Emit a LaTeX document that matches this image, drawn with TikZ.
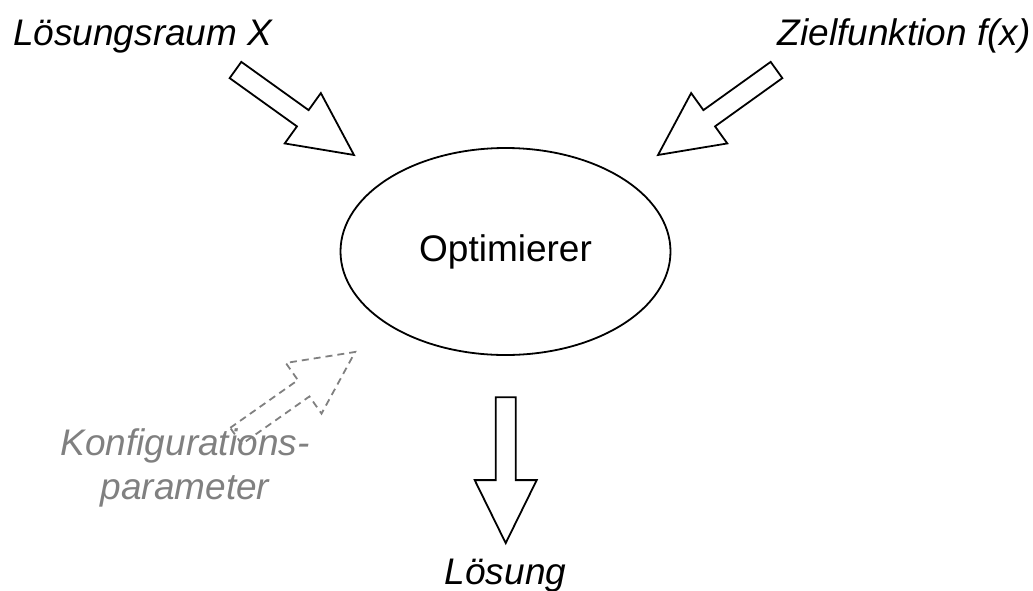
\documentclass[tikz,border=0pt]{standalone}
\usepackage{fontspec}
\setmainfont{Liberation Sans}
\usetikzlibrary{shapes.geometric}
\definecolor{paramgray}{HTML}{808080}
\tikzset{
  labeltext/.style={font=\fontsize{37}{44}\selectfont\itshape, inner sep=0pt},
  mainnode/.style={ellipse, draw=black, line width=1.8pt, minimum width=330pt,
    minimum height=207pt, inner sep=0pt, font=\fontsize{37}{44}\selectfont},
  hollow/.style={draw=black, line width=1.8pt, fill=white, line join=miter},
  hollowdash/.style={draw=paramgray, line width=1.8pt, dash pattern=on 7pt off 5pt,
    line join=miter},
}
% hollow block arrow: starts at coordinate #2, points in direction #3 (degrees)
\newcommand\blockarrow[3][hollow]{%
  \begin{scope}[shift={(#2)}, rotate=#3]
    \path[#1] (0,-10) -- (82.8,-10) -- (82.8,-31) -- (145.8,0)
      -- (82.8,31) -- (82.8,10) -- (0,10) -- cycle;
  \end{scope}}

\begin{document}
\begin{tikzpicture}[x=1pt, y=-1pt]
\useasboundingbox (0,0) rectangle (1033,590);

% central optimiser
\node[mainnode] (opt) at (505.5,251.5) {Optimierer};

% inputs, output and parameters
\coordinate (space) at (235.5,70);
\coordinate (goal) at (776.5,70);
\coordinate (result) at (505.7,397.3);
\coordinate (config) at (236,436);

\blockarrow{space}{-35.65}
\blockarrow{goal}{215.65}
\blockarrow{result}{-90}
\blockarrow[hollowdash]{config}{35.2}

% labels
\node[labeltext, anchor=base west] (spacelbl) at (13,45) {Lösungsraum X};
\node[labeltext, anchor=base east] (goallbl) at (1031,45) {Zielfunktion f(x)};
\node[labeltext, anchor=base] (resultlbl) at (505.5,584) {Lösung};
\node[labeltext, anchor=base, text=paramgray] (configlbl1) at (185,455) {Konfigurations-};
\node[labeltext, anchor=base, text=paramgray] (configlbl2) at (185,499) {parameter};
\end{tikzpicture}
\end{document}
